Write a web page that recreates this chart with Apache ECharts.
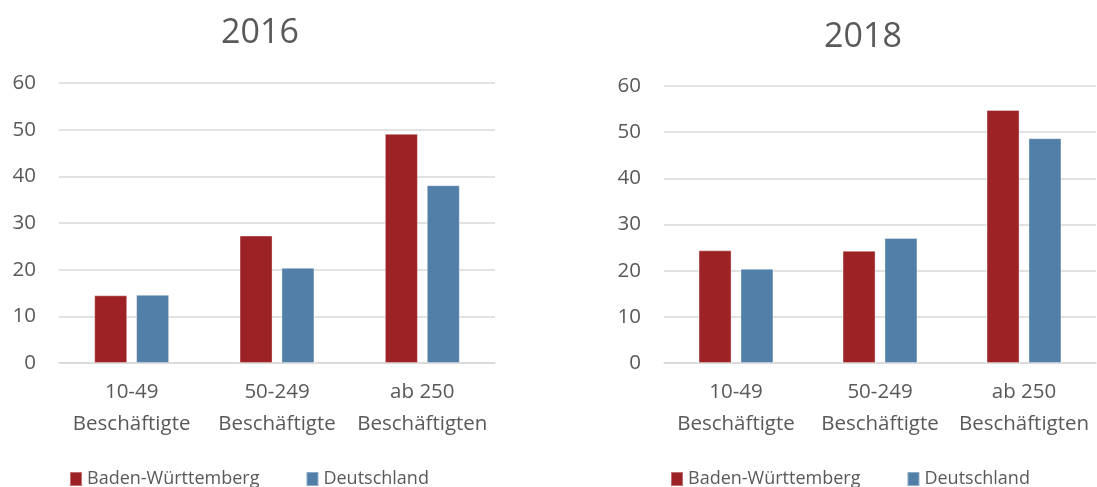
<!DOCTYPE html>
<html>
<head>
<meta charset="utf-8">
<script src="https://cdn.jsdelivr.net/npm/echarts@6/dist/echarts.min.js"></script>
<style>
  html, body { margin: 0; padding: 0; background: #fff; }
  #chart { width: 1097px; height: 487px; }
</style>
</head>
<body>
<div id="chart"></div>
<script>
// Unternehmensgrößenklassen (x-axis categories)
const categories = ['10-49\nBeschäftigte', '50-249\nBeschäftigte', 'ab 250\nBeschäftigten'];
const seriesNames = ['Baden-Württemberg', 'Deutschland'];
const years = ['2016', '2018'];

// Anteile in Prozent
const bw2016 = [14.5, 27.3, 49.1];
const de2016 = [14.6, 20.4, 38.1];
const bw2018 = [24.4, 24.3, 54.8];
const de2018 = [20.4, 27.1, 48.7];

const yTicks = { min: 0, max: 60, interval: 10 };

const RED = '#9C2226';
const BLUE = '#527FA7';
const TEXT = '#595959';
const FONT = 'Open Sans';

const grids = [
  { left: 59, right: 602, top: 83, bottom: 124 },
  { left: 664, right: 1, top: 86, bottom: 124 }
];

function xAxis(i) {
  return {
    type: 'category', gridIndex: i, data: categories,
    axisLine: { show: true, lineStyle: { color: '#D9D9D9', width: 1.5 } },
    axisTick: { show: false },
    axisLabel: { color: TEXT, fontFamily: FONT, fontSize: 20.5, lineHeight: 32, margin: 13, interval: 0 }
  };
}
function yAxis(i) {
  return {
    type: 'value', gridIndex: i, min: yTicks.min, max: yTicks.max, interval: yTicks.interval,
    axisLine: { show: false }, axisTick: { show: false },
    splitLine: { lineStyle: { color: '#D9D9D9', width: 1.5 } },
    axisLabel: { color: TEXT, fontFamily: FONT, fontSize: 20.5, margin: 23 }
  };
}
function bar(name, data, color, i) {
  return {
    name, type: 'bar', xAxisIndex: i, yAxisIndex: i, data,
    barWidth: 33, barGap: '27%',
    itemStyle: { color, borderColor: 'rgba(255,255,255,0.35)', borderWidth: 1 }
  };
}
function legend(left) {
  return {
    left, top: 465, itemWidth: 12, itemHeight: 14, itemGap: 46, icon: 'rect',
    data: seriesNames,
    textStyle: { color: TEXT, fontFamily: FONT, fontSize: 18 }
  };
}

const option = {
  animation: false,
  title: [
    { text: years[0], left: 255, top: 11, textAlign: 'center',
      textStyle: { color: TEXT, fontFamily: FONT, fontSize: 34, fontWeight: 'normal' } },
    { text: years[1], left: 858, top: 15, textAlign: 'center',
      textStyle: { color: TEXT, fontFamily: FONT, fontSize: 34, fontWeight: 'normal' } }
  ],
  legend: [legend(64), legend(665)],
  grid: grids,
  xAxis: [xAxis(0), xAxis(1)],
  yAxis: [yAxis(0), yAxis(1)],
  series: [
    bar(seriesNames[0], bw2016, RED, 0),
    bar(seriesNames[1], de2016, BLUE, 0),
    bar(seriesNames[0], bw2018, RED, 1),
    bar(seriesNames[1], de2018, BLUE, 1)
  ]
};

echarts.init(document.getElementById('chart')).setOption(option);
</script>
</body>
</html>
